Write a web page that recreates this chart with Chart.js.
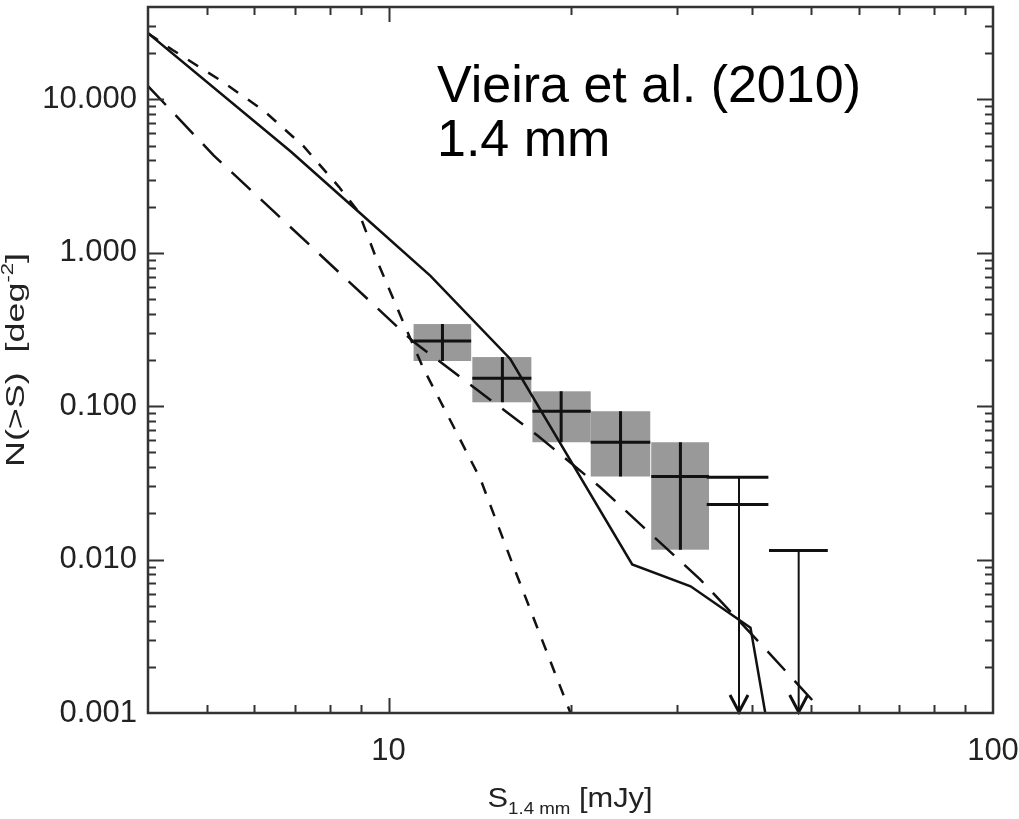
<!DOCTYPE html>
<html>
<head>
<meta charset="utf-8">
<script src="https://cdn.jsdelivr.net/npm/chart.js@4.4.1/dist/chart.umd.min.js"></script>
<style>
  html, body { margin: 0; padding: 0; background: #fff; }
  #wrap { width: 1019px; height: 819px; position: relative; }
</style>
</head>
<body>
<div id="wrap"><canvas id="countsChart"></canvas></div>
<script>
// Cumulative counts at 1.4 mm
const solidX = [4.0, 6.89, 8.92, 11.73, 15.9, 25.3, 31.6, 39.7, 42.0];
const solidY = [27.0, 4.57, 1.85, 0.708, 0.203, 0.0093, 0.0067, 0.0036, 0.001];

const shortDashX = [4.0, 4.40, 5.27, 6.21, 7.24, 8.27, 8.92, 9.59, 10.47, 11.43, 12.8, 14.2, 16.1, 20.0];
const shortDashY = [27.0, 20.9, 13.3, 8.47, 4.93, 2.70, 1.85, 0.873, 0.387, 0.175, 0.074, 0.0333, 0.0090, 0.001];

const longDashX = [4.0, 5.14, 10.96, 17.7, 22.4, 32.8, 41.7, 51.4];
const longDashY = [12.2, 4.30, 0.266, 0.0637, 0.0296, 0.0074, 0.0027, 0.0011];

// measured counts with their grey uncertainty boxes
const pointX = [12.28, 15.43, 19.3, 24.2, 30.4];
const pointY = [0.266, 0.152, 0.0927, 0.0582, 0.0348];
const boxXLo = [11.0, 13.76, 17.3, 21.6, 27.2];
const boxXHi = [13.7, 17.23, 21.6, 27.1, 33.9];
const boxYLo = [0.197, 0.106, 0.0582, 0.0348, 0.0116];
const boxYHi = [0.343, 0.209, 0.125, 0.0927, 0.0582];

// upper limits
const limitBarY = [0.0344, 0.0229, 0.01146];
const limitBarXLo = [33.6, 33.6, 42.6];
const limitBarXHi = [42.5, 42.5, 53.3];
const arrowX = [38.0, 47.7];
const arrowTopY = [0.0344, 0.01146];

// axes
const xMajorTicks = [10, 100];
const xTickLabels = ['10', '100'];
const yMajorTicks = [0.001, 0.01, 0.1, 1, 10];
const yTickLabels = ['0.001', '0.010', '0.100', '1.000', '10.000'];

const FONT = '"Liberation Sans", Arial, Helvetica, sans-serif';
const AXIS_COLOR = '#333';

function toPoints(xs, ys) {
    return xs.map((x, i) => ({ x: x, y: ys[i] }));
}

function isDecadeMultiple(v) {
    const m = v / Math.pow(10, Math.floor(Math.log10(v) + 1e-9));
    return Math.abs(m - Math.round(m)) < 1e-6;
}

// keep the library's log ticks (integer multiples only) for the minor marks,
// and show labels only on the decades
function keepMajors(majors) {
    return function(scale) {
        scale.$minorValues = scale.ticks.map(t => t.value).filter(isDecadeMultiple);
        scale.ticks = majors.map(v => ({ value: v }));
    };
}

// draws text pieces [text, size, dy] centred on 0, stretched along the baseline
function drawPieces(ctx, pieces, stretch) {
    let w = 0;
    pieces.forEach(([t, s]) => { ctx.font = s + 'px ' + FONT; w += ctx.measureText(t).width; });
    ctx.scale(stretch, 1);
    let cx = -w / 2;
    pieces.forEach(([t, s, dy]) => {
        ctx.font = s + 'px ' + FONT;
        ctx.fillText(t, cx, dy);
        cx += ctx.measureText(t).width;
    });
}

const framePlugin = {
    id: 'frame',
    beforeDatasetsDraw(chart) {
        const { ctx, scales: { x, y } } = chart;
        ctx.save();
        ctx.fillStyle = '#999';
        for (let i = 0; i < boxXLo.length; i++) {
            const x0 = x.getPixelForValue(boxXLo[i]);
            const x1 = x.getPixelForValue(boxXHi[i]);
            const y0 = y.getPixelForValue(boxYHi[i]);
            const y1 = y.getPixelForValue(boxYLo[i]);
            ctx.fillRect(x0, y0, x1 - x0, y1 - y0);
        }
        ctx.restore();
    },
    afterDatasetsDraw(chart) {
        const { ctx, chartArea: area, scales: { x, y } } = chart;
        ctx.save();
        ctx.strokeStyle = '#111';
        ctx.lineCap = 'butt';

        // crosses on the boxes
        ctx.lineWidth = 3;
        for (let i = 0; i < pointX.length; i++) {
            const px = x.getPixelForValue(pointX[i]);
            const py = y.getPixelForValue(pointY[i]);
            ctx.beginPath();
            ctx.moveTo(x.getPixelForValue(boxXLo[i]), py);
            ctx.lineTo(x.getPixelForValue(boxXHi[i]), py);
            ctx.moveTo(px, y.getPixelForValue(boxYHi[i]));
            ctx.lineTo(px, y.getPixelForValue(boxYLo[i]));
            ctx.stroke();
        }

        // upper limit bars
        for (let i = 0; i < limitBarY.length; i++) {
            const py = y.getPixelForValue(limitBarY[i]);
            ctx.beginPath();
            ctx.moveTo(x.getPixelForValue(limitBarXLo[i]), py);
            ctx.lineTo(x.getPixelForValue(limitBarXHi[i]), py);
            ctx.stroke();
        }

        // arrows down to the axis
        for (let i = 0; i < arrowX.length; i++) {
            const px = x.getPixelForValue(arrowX[i]);
            const top = y.getPixelForValue(arrowTopY[i]);
            const bottom = area.bottom;
            ctx.lineWidth = 2;
            ctx.beginPath();
            ctx.moveTo(px, top);
            ctx.lineTo(px, bottom);
            ctx.stroke();
            ctx.lineWidth = 3;
            ctx.beginPath();
            ctx.moveTo(px - 9, bottom - 18);
            ctx.lineTo(px, bottom - 1);
            ctx.lineTo(px + 9, bottom - 18);
            ctx.stroke();
        }
        ctx.restore();
    },
    afterDraw(chart) {
        const { ctx, chartArea: area, scales: { x, y } } = chart;
        ctx.save();
        ctx.strokeStyle = AXIS_COLOR;

        // inward ticks on all four sides
        ctx.lineWidth = 2;
        ctx.beginPath();
        (x.$minorValues || []).forEach(v => {
            if (v <= x.min || v >= x.max) return;
            const px = Math.round(x.getPixelForValue(v)) + 0.5;
            const len = xMajorTicks.includes(v) ? 15 : 8;
            ctx.moveTo(px, area.bottom); ctx.lineTo(px, area.bottom - len);
            ctx.moveTo(px, area.top); ctx.lineTo(px, area.top + len);
        });
        (y.$minorValues || []).forEach(v => {
            if (v <= y.min || v >= y.max) return;
            const py = Math.round(y.getPixelForValue(v)) + 0.5;
            const len = yMajorTicks.some(m => Math.abs(m - v) / m < 1e-6) ? 16 : 8;
            ctx.moveTo(area.left, py); ctx.lineTo(area.left + len, py);
            ctx.moveTo(area.right, py); ctx.lineTo(area.right - len, py);
        });
        ctx.stroke();

        // frame
        ctx.lineWidth = 2.5;
        ctx.strokeRect(area.left, area.top, area.right - area.left, area.bottom - area.top);

        // axis titles
        ctx.fillStyle = '#222';
        ctx.textBaseline = 'alphabetic';
        ctx.textAlign = 'left';
        ctx.save();
        ctx.translate(570, 807);
        drawPieces(ctx, [['S', 28, 0], ['1.4 mm', 17, 7], [' [mJy]', 28, 0]], 1.1);
        ctx.restore();

        ctx.save();
        ctx.translate(24, 360);
        ctx.rotate(-Math.PI / 2);
        drawPieces(ctx, [['N(>S)  [deg', 26, 0], ['-2', 16, -11], [']', 26, 0]], 1.38);
        ctx.restore();
        ctx.restore();

        // annotation
        ctx.save();
        ctx.fillStyle = '#000';
        ctx.font = '52px ' + FONT;
        ctx.textAlign = 'left';
        ctx.textBaseline = 'alphabetic';
        ctx.fillText('Vieira et al. (2010)', 437, 102);
        ctx.fillText('1.4 mm', 437, 156);
        ctx.restore();
    }
};

const lineStyle = {
    showLine: true,
    pointRadius: 0,
    borderColor: '#111',
    borderWidth: 2.5,
    fill: false,
    tension: 0
};

new Chart(document.getElementById('countsChart'), {
    type: 'scatter',
    data: {
        datasets: [
            Object.assign({ label: 'Total', data: toPoints(solidX, solidY) }, lineStyle),
            Object.assign({ label: 'Short dash', data: toPoints(shortDashX, shortDashY), borderDash: [12, 12] }, lineStyle),
            Object.assign({ label: 'Long dash', data: toPoints(longDashX, longDashY), borderDash: [26, 14] }, lineStyle)
        ]
    },
    options: {
        responsive: true,
        maintainAspectRatio: false,
        animation: false,
        layout: { padding: { top: 7, right: 26, left: 0, bottom: 0 } },
        scales: {
            x: {
                type: 'logarithmic',
                min: 4,
                max: 100,
                grid: { display: false, drawTicks: false },
                border: { display: false },
                afterBuildTicks: keepMajors(xMajorTicks),
                ticks: {
                    autoSkip: false,
                    maxRotation: 0,
                    padding: 20,
                    color: '#222',
                    font: { family: FONT, size: 31 },
                    callback: v => xTickLabels[xMajorTicks.indexOf(v)]
                },
                afterFit(scale) {
                    scale.height = 106;
                    scale.paddingLeft = 0;
                    scale.paddingRight = 0;
                }
            },
            y: {
                type: 'logarithmic',
                min: 0.001,
                max: 40,
                grid: { display: false, drawTicks: false },
                border: { display: false },
                afterBuildTicks: keepMajors(yMajorTicks),
                ticks: {
                    autoSkip: false,
                    padding: 11,
                    color: '#222',
                    font: { family: FONT, size: 31 },
                    callback: v => yTickLabels[yMajorTicks.findIndex(m => Math.abs(m - v) / m < 1e-6)]
                },
                afterFit(scale) {
                    scale.width = 148;
                    scale.paddingTop = 0;
                    scale.paddingBottom = 0;
                }
            }
        },
        plugins: {
            legend: { display: false },
            tooltip: { enabled: false }
        }
    },
    plugins: [framePlugin]
});
</script>
</body>
</html>
